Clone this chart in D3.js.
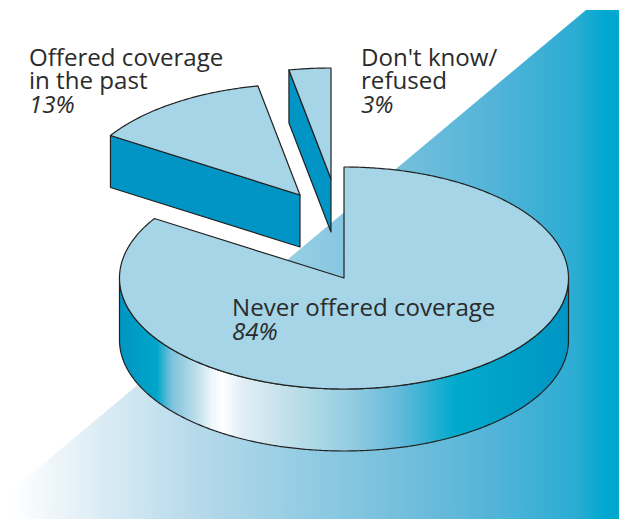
<!DOCTYPE html>
<html><head><meta charset="utf-8">
<script src="https://cdn.jsdelivr.net/npm/d3@7/dist/d3.min.js"></script>
<style>html,body{margin:0;padding:0;background:#fff}svg{display:block}
text{font-family:"Open Sans",sans-serif;font-size:24.1px;fill:#2b2b2b}</style>
</head><body><svg id="c" width="622" height="519"></svg>
<script>
const categories = ["Never offered coverage", "Offered coverage in the past", "Don't know/refused"];
const shares = [84, 13, 3];
const labelLines = [["Never offered coverage"], ["Offered coverage", "in the past"], ["Don't know/", "refused"]];

const svg = d3.select("#c");
const defs = svg.append("defs");
const bg = defs.append("linearGradient").attr("id","bg").attr("gradientUnits","userSpaceOnUse")
  .attr("x1",12).attr("x2",605).attr("y1",0).attr("y2",0);
[[12,"#ffffff"],[100,"#dcecf5"],[200,"#b5d9ea"],[300,"#94cde3"],[400,"#74bfdc"],[500,"#50b3d8"],[577,"#2aacd2"],[605,"#00a8d0"]]
 .forEach(s=>bg.append("stop").attr("offset",(s[0]-12)/593).attr("stop-color",s[1]));
const sideGrad = defs.append("linearGradient").attr("id","side").attr("gradientUnits","userSpaceOnUse")
  .attr("x1",120).attr("x2",569).attr("y1",0).attr("y2",0);
[[120,"#0095c4"],[157,"#00a6c9"],[172,"#7fc2dc"],[195,"#b9dcea"],[212,"#eef7fb"],[223,"#ffffff"],[240,"#e3f0f6"],[285,"#c2e1ea"],[350,"#94cde1"],[400,"#63b9da"],[455,"#00aacd"],[500,"#00a2c8"],[569,"#0095c4"]]
 .forEach(s=>sideGrad.append("stop").attr("offset",(s[0]-120)/449).attr("stop-color",s[1]));

svg.append("path").attr("fill","url(#bg)")
  .attr("d",d3.line()([[586,10],[619,10],[619,519],[12,519],[12,490]])+"Z");

const rx = 224.5, ry = 111, depth = 62, cx = 344, cy = 278;
const X = d3.scaleLinear().domain([-1,1]).range([cx-rx,cx+rx]);
const Y = d3.scaleLinear().domain([-1,1]).range([cy-ry,cy+ry]);
const pts = (a0,a1,dx=0,dy=0) => {
  const n = Math.max(2,Math.ceil(Math.abs(a1-a0)/0.01));
  return d3.range(n+1).map(i=>{const a=a0+(a1-a0)*i/n;
    return [X(Math.sin(a))+dx, Y(-Math.cos(a))+dy];});
};
const pathLine = d3.line();
const arcs = d3.pie().sort(null).value(d=>d)(shares);
const topFill = "#a5d5e7", dark = "#0095c4", ink = "#222";
const offsets = [[0,0,62],[-44,-83,52],[-13,-99,53]];
const outline = sel => sel.attr("stroke",ink).attr("stroke-width",1.2).attr("stroke-linejoin","round");

const front = pts(Math.PI/2, 3*Math.PI/2);
const back = pts(3*Math.PI/2, Math.PI/2, 0, depth);
svg.append("path").attr("d",pathLine(front.concat(back))+"Z").attr("fill","url(#side)").call(outline);

arcs.forEach((a,i)=>{
  const [dx,dy,dp] = offsets[i];
  const apex = [cx+dx, cy+dy];
  const rim = pts(a.startAngle,a.endAngle,dx,dy);
  if(i>0){
    const p = rim[0];
    svg.append("path").attr("d",pathLine([p,apex,[apex[0],apex[1]+dp],[p[0],p[1]+dp]])+"Z")
     .attr("fill",dark).call(outline);
  }
  svg.append("path").attr("d",pathLine([apex].concat(rim))+"Z").attr("fill",topFill).call(outline);
});

const labels = [[232,[316,340]],[29,[66,89,113]],[361,[66,89,113]]];
categories.forEach((c,i)=>{
  const [x,ys] = labels[i];
  labelLines[i].forEach((t,k)=>svg.append("text").attr("x",x).attr("y",ys[k]).text(t));
  svg.append("text").attr("x",x).attr("y",ys[ys.length-1]).attr("font-style","italic").text(shares[i]+"%");
});
</script></body></html>
